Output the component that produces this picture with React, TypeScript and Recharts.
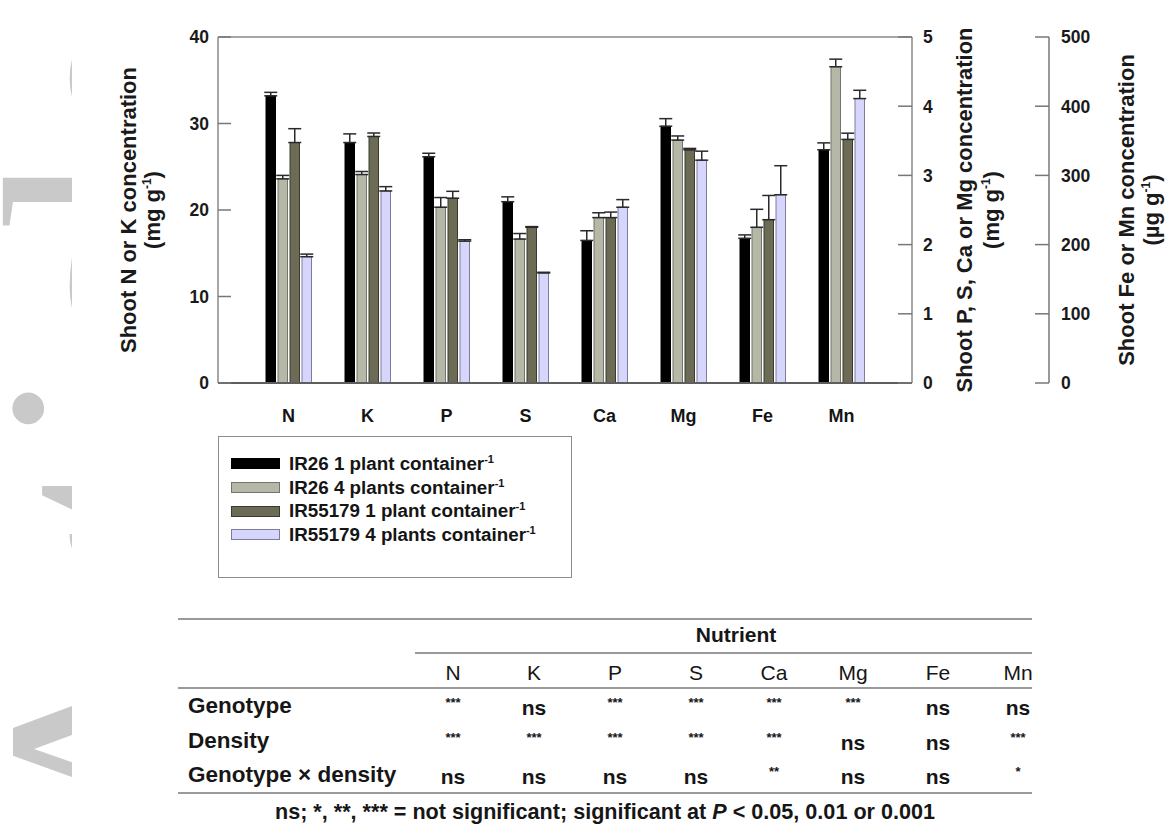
import React from "react";
import { BarChart, Bar, XAxis, YAxis, ErrorBar, ReferenceLine, Legend } from "recharts";

// nutrients on the x axis, and which y axis each one is read against
const nutrients = ["N", "K", "P", "S", "Ca", "Mg", "Fe", "Mn"];
const nutrientAxis = ["nk", "nk", "mg", "mg", "mg", "mg", "ug", "ug"];

// shoot concentrations (N, K in mg/g; P..Mg in mg/g on right axis; Fe, Mn in ug/g)
const ir26One = [33.2, 27.8, 3.27, 2.62, 2.06, 3.71, 209, 337];
const ir26Four = [23.6, 24.1, 2.54, 2.08, 2.39, 3.51, 225, 457];
const ir55One = [27.8, 28.5, 2.67, 2.25, 2.39, 3.37, 236, 352];
const ir55Four = [14.6, 22.2, 2.05, 1.59, 2.54, 3.22, 272, 411];

// standard errors (upper whisker only)
const ir26OneErr = [0.4, 1.0, 0.05, 0.07, 0.14, 0.11, 5, 10];
const ir26FourErr = [0.4, 0.35, 0.14, 0.08, 0.07, 0.06, 26, 11];
const ir55OneErr = [1.6, 0.4, 0.1, 0.01, 0.08, 0.02, 35, 9];
const ir55FourErr = [0.3, 0.5, 0.02, 0.01, 0.11, 0.13, 42, 12];

const seriesNames = [
  "IR26 1 plant container",
  "IR26 4 plants container",
  "IR55179 1 plant container",
  "IR55179 4 plants container",
];

const nkTicks = [0, 10, 20, 30, 40];
const mgTicks = [0, 1, 2, 3, 4, 5];
const ugTicks = [0, 100, 200, 300, 400, 500];

// two-way ANOVA table
const genotypeSig = ["***", "ns", "***", "***", "***", "***", "ns", "ns"];
const densitySig = ["***", "***", "***", "***", "***", "ns", "ns", "***"];
const interactionSig = ["ns", "ns", "ns", "ns", "**", "ns", "ns", "*"];

const seriesValues = [ir26One, ir26Four, ir55One, ir55Four];
const seriesErrors = [ir26OneErr, ir26FourErr, ir55OneErr, ir55FourErr];
const FILLS = ["#000000", "#b5b7a7", "#6c6c56", "#d6d6fc"];
const STROKES = ["#000000", "#74746a", "#3a3a2e", "#7c7c9c"];
const AXES = ["nk", "mg", "ug"];

const rows = nutrients.map((name, j) => {
  const row: any = { name };
  seriesValues.forEach((vals, i) => {
    AXES.forEach((a) => {
      const on = nutrientAxis[j] === a;
      row[`v${i}_${a}`] = on ? vals[j] : null;
      row[`e${i}_${a}`] = on ? [0, seriesErrors[i][j]] : null;
    });
  });
  return row;
});

const SANS = "'Liberation Sans', Arial, Helvetica, sans-serif";
const NARROW = "'Liberation Sans Narrow', 'Arial Narrow', 'Liberation Sans', sans-serif";
const TICK_FONT = { fontFamily: SANS, fontSize: 17.5, fontWeight: 700, fill: "#1a1a1a" };
const AXIS_GRAY = "#8a8a8a";

const makeTick = (side: "left" | "right", len: number, gap: number) => (p: any) => {
  const axisX = side === "left" ? p.x + gap : p.x - gap;
  const x2 = side === "left" ? axisX + len : axisX - len;
  return (
    <g>
      <line x1={axisX} x2={x2} y1={p.y} y2={p.y} stroke="#777" strokeWidth={1.5} />
      <text x={p.x} y={p.y} dy="0.36em" textAnchor={side === "left" ? "end" : "start"} style={TICK_FONT}>
        {p.payload.value}
      </text>
    </g>
  );
};

const makeTitle = (line1: string, unit: string, b1: number, b2: number) => (p: any) => {
  const vb = p.viewBox;
  const cy = vb.y + vb.height / 2;
  const style = { fontFamily: SANS, fontSize: 22, fontWeight: 700, fill: "#1a1a1a" };
  return (
    <g>
      <text transform={`translate(${vb.x + b1},${cy}) rotate(-90)`} textAnchor="middle" style={style}>
        {line1}
      </text>
      <text transform={`translate(${vb.x + b2},${cy}) rotate(-90)`} textAnchor="middle" style={style}>
        ({unit}
        <tspan fontSize={12} dy={-9}>-1</tspan>
        <tspan dy={9}>)</tspan>
      </text>
    </g>
  );
};

function LegendBox() {
  return (
    <div
      style={{
        boxSizing: "border-box",
        width: 354,
        height: 142,
        border: "1.5px solid #8c8c8c",
        paddingTop: 15,
        paddingLeft: 12,
        fontFamily: SANS,
        fontWeight: 700,
        fontSize: 18.8,
        color: "#151515",
      }}
    >
      {seriesNames.map((n, i) => (
        <div key={n} style={{ display: "flex", alignItems: "center", height: 23.7 }}>
          <span
            style={{
              display: "inline-block",
              boxSizing: "border-box",
              width: 49,
              height: 11,
              background: FILLS[i],
              border: `1px solid ${STROKES[i]}`,
              marginRight: 9,
            }}
          />
          <span>
            {n}
            <sup style={{ fontSize: 11, verticalAlign: 7 }}>-1</sup>
          </span>
        </div>
      ))}
    </div>
  );
}

const colX = [453, 534, 615, 696, 774, 853, 938, 1018];
const sigRows = [
  { label: "Genotype", y: 706, sig: genotypeSig },
  { label: "Density", y: 741, sig: densitySig },
  { label: "Genotype \u00d7 density", y: 775, sig: interactionSig },
];

function Txt({ x, y, children, anchor = "middle", style }: any) {
  const tx = anchor === "middle" ? "-50%" : "0";
  return (
    <div
      style={{
        position: "absolute",
        left: x,
        top: y,
        transform: `translate(${tx},-50%)`,
        whiteSpace: "nowrap",
        lineHeight: 1,
        ...style,
      }}
    >
      {children}
    </div>
  );
}

function Rule({ x1, x2, y, w, color = "#9a9a9a" }: any) {
  return <div style={{ position: "absolute", left: x1, top: y - w / 2, width: x2 - x1, height: w, background: color }} />;
}

function AnovaTable() {
  const bold = { fontFamily: SANS, fontWeight: 700, fontSize: 22.5, color: "#161616" };
  return (
    <>
      <Rule x1={178} x2={1032} y={619} w={2} />
      <Txt x={736} y={634} style={{ ...bold, fontFamily: NARROW, fontSize: 21 }}>Nutrient</Txt>
      <Rule x1={415} x2={1032} y={653} w={1.5} />
      {nutrients.map((n, i) => (
        <Txt key={n} x={colX[i]} y={672} style={{ fontFamily: NARROW, fontSize: 21, color: "#161616" }}>
          {n}
        </Txt>
      ))}
      <Rule x1={178} x2={1032} y={688} w={2.5} />
      {sigRows.map((r) => (
        <React.Fragment key={r.label}>
          <Txt x={188} y={r.y} anchor="start" style={bold}>
            {r.label}
          </Txt>
          {r.sig.map((s, i) =>
            s === "ns" ? (
              <Txt key={i} x={colX[i]} y={r.y + 1} style={{ ...bold, fontFamily: NARROW, fontSize: 21 }}>
                ns
              </Txt>
            ) : (
              <Txt key={i} x={colX[i]} y={r.y - 4} style={{ ...bold, fontSize: 13 }}>
                {s}
              </Txt>
            )
          )}
        </React.Fragment>
      ))}
      <Rule x1={178} x2={1032} y={793} w={2.5} />
      <Txt x={605} y={812} style={{ ...bold, fontFamily: NARROW, fontSize: 21.6 }}>
        ns; *, **, *** = not significant; significant at <i>P</i> &lt; 0.05, 0.01 or 0.001
      </Txt>
    </>
  );
}

export default function App() {
  return (
    <div style={{ position: "absolute", left: 0, top: 0, width: 1176, height: 831, background: "#fff", overflow: "hidden" }}>
      <svg width={72} height={831} style={{ position: "absolute", left: 0, top: 0 }}>
        <text
          transform="translate(211,15) rotate(-90)"
          textAnchor="end"
          fontFamily="'Liberation Serif', 'Times New Roman', serif"
          fontSize={300}
          fill="#c9c9c9"
        >
          Accepted Article
        </text>
      </svg>
      <div style={{ position: "absolute", left: 0, top: 0 }}>
        <BarChart
          width={1176}
          height={600}
          data={rows}
          margin={{ top: 37, right: 0, bottom: 177, left: 100 }}
          barSize={9.5}
          barGap={2.5}
        >
          <XAxis
            dataKey="name"
            interval={0}
            padding={{ left: 31, right: 31 }}
            height={40}
            tickLine={false}
            tickMargin={20}
            axisLine={{ stroke: "#5e5e5e", strokeWidth: 2 }}
            tick={{ fontFamily: SANS, fontSize: 18, fontWeight: 700, fill: "#151515" }}
          />
          <YAxis
            yAxisId="nk"
            orientation="left"
            width={118}
            domain={[0, 40]}
            ticks={nkTicks}
            tickLine={false}
            tickSize={0}
            tickMargin={9}
            axisLine={{ stroke: AXIS_GRAY, strokeWidth: 1.5 }}
            tick={makeTick("left", 13, 9)}
            label={makeTitle("Shoot N or K concentration", "mg g", 36, 60)}
          />
          <YAxis
            yAxisId="mg"
            orientation="right"
            width={137}
            domain={[0, 5]}
            ticks={mgTicks}
            tickLine={false}
            tickSize={0}
            tickMargin={11}
            axisLine={{ stroke: AXIS_GRAY, strokeWidth: 1.5 }}
            tick={makeTick("right", 14, 11)}
            label={makeTitle("Shoot P, S, Ca or Mg concentration", "mg g", 60, 87)}
          />
          <YAxis
            yAxisId="ug"
            orientation="right"
            width={127}
            domain={[0, 500]}
            ticks={ugTicks}
            tickLine={false}
            tickSize={0}
            tickMargin={12}
            axisLine={{ stroke: "#777", strokeWidth: 1.5 }}
            tick={makeTick("right", 14, 12)}
            label={makeTitle("Shoot Fe or Mn concentration", "\u00b5g g", 85, 110)}
          />
          <ReferenceLine yAxisId="nk" y={40} stroke={AXIS_GRAY} strokeWidth={1.5} />
          {seriesValues.map((_, i) =>
            AXES.map((a) => (
              <Bar
                key={`${i}_${a}`}
                dataKey={`v${i}_${a}`}
                yAxisId={a}
                stackId={`s${i}`}
                fill={FILLS[i]}
                stroke={STROKES[i]}
                strokeWidth={1}
                legendType={a === "nk" ? "rect" : "none"}
                isAnimationActive={false}
              >
                <ErrorBar dataKey={`e${i}_${a}`} width={6.5} stroke="#2a2a2a" strokeWidth={1.5} direction="y" />
              </Bar>
            ))
          )}
          <Legend
            layout="vertical"
            align="center"
            verticalAlign="middle"
            wrapperStyle={{ left: 218, top: 436, width: 354, height: 142 }}
            content={() => <LegendBox />}
          />
        </BarChart>
      </div>
      <AnovaTable />
    </div>
  );
}
